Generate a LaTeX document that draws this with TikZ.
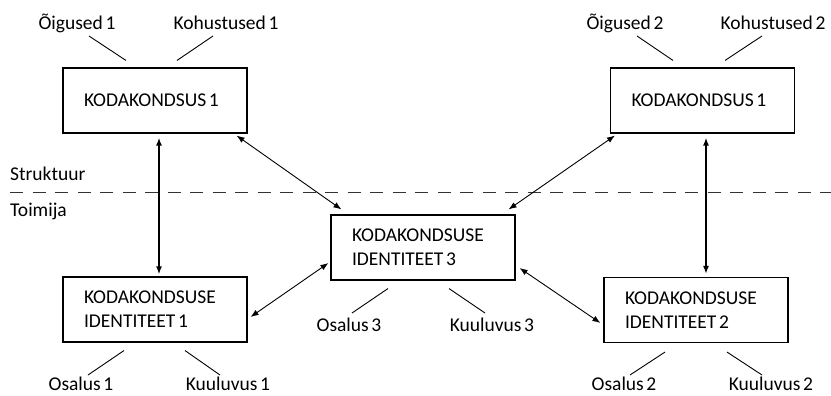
\documentclass[tikz,border=0pt]{standalone}
\usepackage{fontspec}
\setmainfont{Carlito}[WordSpace=0.6]
\usetikzlibrary{arrows.meta}
\usetikzlibrary{positioning}
\tikzset{>={Latex[length=8pt,width=6pt]}}

\begin{document}
\begin{tikzpicture}[x=1pt, y=-1pt,
	box/.style={draw, line width=1.1pt, inner xsep=21pt, inner ysep=0pt, text width=142pt, minimum height=65pt, align=flush left, font=\fontsize{19.5}{24}\selectfont},
	lbl/.style={inner sep=0pt, anchor=base, font=\fontsize{19.5}{24}\selectfont},
	tick/.style={line width=0.9pt},
	link/.style={<->, line width=0.9pt},
	main/.style={<->, line width=2pt}]
		\useasboundingbox (0,0) rectangle (831,396);
		% boxes
		\node[box] (k1) at (155,100.5) {KODAKONDSUS 1};
		\node[box] (k2) at (702.5,100.5) {KODAKONDSUS 1};
		\node[box] (i1) at (155,309.5) {KODAKONDSUSE\\IDENTITEET 1};
		\node[box] (i3) at (423,247.5) {KODAKONDSUSE\\IDENTITEET 3};
		\node[box] (i2) at (696,310) {KODAKONDSUSE\\IDENTITEET 2};
		% labels
		\node[lbl] (oig1) at (77,30) {Õigused 1};
		\node[lbl] (koh1) at (226,30) {Kohustused 1};
		\node[lbl] (oig2) at (625,30) {Õigused 2};
		\node[lbl] (koh2) at (773,30) {Kohustused 2};
		\node[lbl] (osa1) at (81,390) {Osalus 1};
		\node[lbl] (kuu1) at (228,390) {Kuuluvus 1};
		\node[lbl] (osa3) at (349,331) {Osalus 3};
		\node[lbl] (kuu3) at (492,331) {Kuuluvus 3};
		\node[lbl] (osa2) at (624,390) {Osalus 2};
		\node[lbl] (kuu2) at (771,390) {Kuuluvus 2};
		\node[lbl, anchor=base west] (struk) at (10,180) {Struktuur};
		\node[lbl, anchor=base west] (toim) at (10,216) {Toimija};
		% divider
		\draw[line width=1.2pt, black!80, dash pattern=on 13pt off 9.5pt] (10,192.5) -- (831,192.5);
		% short lines
		\draw[tick] ([shift={(12,6)}]oig1.base) -- ([shift={(-29,-7)}]k1.north);
		\draw[tick] ([shift={(-13,6)}]koh1.base) -- ([shift={(22,-7)}]k1.north);
		\draw[tick] ([shift={(12,6)}]oig2.base) -- ([shift={(-29.5,-7)}]k2.north);
		\draw[tick] ([shift={(-11,6)}]koh2.base) -- ([shift={(22.5,-7)}]k2.north);
		\draw[tick] ([shift={(7,-15)}]osa1.base) -- ([shift={(-31,8)}]i1.south);
		\draw[tick] ([shift={(-8,-15)}]kuu1.base) -- ([shift={(30,8)}]i1.south);
		\draw[tick] ([shift={(3,-18)}]osa3.base) -- ([shift={(-35,8)}]i3.south);
		\draw[tick] ([shift={(-7,-18)}]kuu3.base) -- ([shift={(26,8)}]i3.south);
		\draw[tick] ([shift={(6,-15)}]osa2.base) -- ([shift={(-31,9)}]i2.south);
		\draw[tick] ([shift={(-9,-15)}]kuu2.base) -- ([shift={(31,9)}]i2.south);
		% arrows
		\draw[main] ([shift={(4,4)}]k1.south) -- ([shift={(4,-2)}]i1.north);
		\draw[main] ([shift={(3.5,4)}]k2.south) -- ([shift={(10,-3)}]i2.north);
		\draw[link] ([shift={(-11,2)}]k1.south east) -- ([shift={(11,-5)}]i3.north west);
		\draw[link] ([shift={(5,2)}]k2.south west) -- ([shift={(-7,-5)}]i3.north east);
		\draw[link] ([shift={(3,7.5)}]i1.east) -- ([shift={(-2,15.5)}]i3.west);
		\draw[link] ([shift={(4,20.5)}]i3.east) -- ([shift={(-3,13)}]i2.west);
\end{tikzpicture}
\end{document}
